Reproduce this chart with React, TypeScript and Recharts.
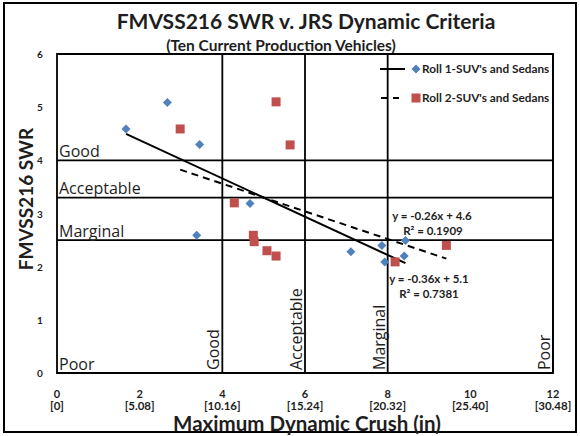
import React from "react";
import { ReferenceArea, ReferenceLine, Scatter, ScatterChart, XAxis, YAxis } from "recharts";

// Roll 1 and Roll 2 measurements (crush in, SWR)
const roll1Crush = [1.67, 2.67, 3.45, 4.67, 3.38, 7.11, 7.86, 8.43, 7.93, 8.4];
const roll1Swr = [4.59, 5.09, 4.3, 3.19, 2.59, 2.28, 2.4, 2.49, 2.09, 2.2];
const roll2Crush = [2.98, 5.3, 5.64, 4.29, 4.75, 4.77, 5.08, 5.3, 9.42, 8.18];
const roll2Swr = [4.59, 5.1, 4.29, 3.2, 2.59, 2.47, 2.3, 2.2, 2.4, 2.09];

const seriesNames = ["Roll 1-SUV's and Sedans", "Roll 2-SUV's and Sedans"];
const trendSlopes = [-0.36, -0.26];
const trendIntercepts = [5.1, 4.6];
const trendEquations = ["y = -0.36x + 5.1", "y = -0.26x + 4.6"];
const trendR2 = ["R² = 0.7381", "R² = 0.1909"];

const xTicks = [0, 2, 4, 6, 8, 10, 12];
const xTicksMm = ["0", "5.08", "10.16", "15.24", "20.32", "25.40", "30.48"];
const yTicks = [0, 1, 2, 3, 4, 5, 6];

const swrLevels = [4, 3.3, 2.5, 0];
const swrNames = ["Good", "Acceptable", "Marginal", "Poor"];
const crushLevels = [4, 6, 8, 12];
const crushNames = ["Good", "Acceptable", "Marginal", "Poor"];

const BLUE = "#4F81BD";
const RED = "#C0504D";
const INK = "#1e1e1e";
const FONT = 'Lato, "Open Sans", sans-serif';
const LABEL_FONT = '"Open Sans", sans-serif';

const toPoints = (xs: number[], ys: number[]) => xs.map((x, i) => ({ x, y: ys[i] }));

const trendPoints = (xs: number[], i: number) =>
  [Math.min(...xs), Math.max(...xs)].map((x) => ({ x, y: trendIntercepts[i] + trendSlopes[i] * x }));

const Diamond = (props: any) => {
  const { cx, cy } = props;
  const r = 4.5;
  return <polygon points={`${cx},${cy - r} ${cx + r},${cy} ${cx},${cy + r} ${cx - r},${cy}`} fill={BLUE} />;
};

const Square = (props: any) => {
  const { cx, cy } = props;
  return <rect x={cx - 4.5} y={cy - 4.5} width={9} height={9} fill={RED} />;
};

const NoDot = () => <g />;

function XTick(props: any) {
  const { x, y, payload } = props;
  const i = xTicks.indexOf(payload.value);
  const common = { x, textAnchor: "middle" as const, fontWeight: 700, fill: INK, fontFamily: FONT };
  return (
    <g>
      <text {...common} fontSize={11} y={y + 25}>{payload.value}</text>
      <text {...common} fontSize={11.5} y={y + 37}>[{xTicksMm[i]}]</text>
    </g>
  );
}

function YTick(props: any) {
  const { x, y, payload } = props;
  return (
    <text x={x - 17} y={y + 4} textAnchor="middle" fontSize={10} fontWeight={700} fill={INK} fontFamily={FONT}>
      {payload.value}
    </text>
  );
}

const hLabel = (name: string) => (props: any) => {
  const { viewBox } = props;
  return (
    <text x={viewBox.x + 2} y={viewBox.y - 3.5} fontSize={16} fill={INK} fontFamily={LABEL_FONT}>
      {name}
    </text>
  );
};

const vLabel = (name: string) => (props: any) => {
  const { viewBox } = props;
  const x = viewBox.x - 3;
  const y = viewBox.y + viewBox.height - 3;
  return (
    <text transform={`translate(${x},${y}) rotate(-90)`} fontSize={16} fill={INK} fontFamily={LABEL_FONT}>
      {name}
    </text>
  );
};

export default function App() {
  return (
    <div style={{ position: "absolute", left: 0, top: 0, width: 580, height: 436, background: "#fff" }}>
      <ScatterChart width={580} height={436} margin={{ top: 54, right: 27, bottom: 23, left: 0 }}>
        <XAxis
          type="number"
          dataKey="x"
          domain={[0, 12]}
          ticks={xTicks}
          tick={<XTick />}
          tickSize={0}
          tickMargin={0}
          axisLine={false}
          height={40}
        />
        <YAxis
          type="number"
          dataKey="y"
          domain={[0, 6]}
          ticks={yTicks}
          tick={<YTick />}
          tickSize={0}
          tickMargin={0}
          axisLine={false}
          width={57}
        />
        <ReferenceArea x1={0} x2={12} y1={0} y2={6} fill="none" stroke="#000" strokeWidth={1.8} />
        {swrLevels.map((v, i) => (
          <ReferenceLine key={"h" + i} y={v} stroke="#000" strokeWidth={1.8} label={hLabel(swrNames[i])} />
        ))}
        {crushLevels.map((v, i) => (
          <ReferenceLine key={"v" + i} x={v} stroke="#000" strokeWidth={1.8} label={vLabel(crushNames[i])} />
        ))}
        <Scatter
          name={seriesNames[0] + " trend"}
          data={trendPoints(roll1Crush, 0)}
          line={{ stroke: "#000", strokeWidth: 2 }}
          shape={NoDot}
          isAnimationActive={false}
        />
        <Scatter
          name={seriesNames[1] + " trend"}
          data={trendPoints(roll2Crush, 1)}
          line={{ stroke: "#000", strokeWidth: 2, strokeDasharray: "7 5" }}
          shape={NoDot}
          isAnimationActive={false}
        />
        <Scatter name={seriesNames[0]} data={toPoints(roll1Crush, roll1Swr)} shape={Diamond} isAnimationActive={false} />
        <Scatter name={seriesNames[1]} data={toPoints(roll2Crush, roll2Swr)} shape={Square} isAnimationActive={false} />
      </ScatterChart>

      <svg
        width={580}
        height={436}
        style={{ position: "absolute", left: 0, top: 0, pointerEvents: "none" }}
        fontFamily={FONT}
        fill={INK}
      >
        <rect x={4} y={3} width={572} height={429} fill="none" stroke="#000" strokeWidth={2} />
        <text x={306} y={29} textAnchor="middle" fontSize={21} fontWeight={700}>
          FMVSS216 SWR v. JRS Dynamic Criteria
        </text>
        <text x={281} y={51} textAnchor="middle" fontSize={15.5} fontWeight={700}>
          (Ten Current Production Vehicles)
        </text>
        <text x={307} y={431} textAnchor="middle" fontSize={20.5} fontWeight={700}>
          Maximum Dynamic Crush (in)
        </text>
        <text transform="translate(33,199) rotate(-90)" textAnchor="middle" fontSize={19} fontWeight={700}>
          FMVSS216 SWR
        </text>

        {/* legend */}
        <line x1={380} x2={405} y1={69} y2={69} stroke="#000" strokeWidth={2} />
        <polygon points="416,64.5 420.5,69 416,73.5 411.5,69" fill={BLUE} />
        <text x={422} y={73} fontSize={11.8} fontWeight={700}>{seriesNames[0]}</text>
        <line x1={381} x2={405} y1={98} y2={98} stroke="#000" strokeWidth={2} strokeDasharray="6 6" />
        <rect x={411.5} y={93.5} width={9} height={9} fill={RED} />
        <text x={422} y={102} fontSize={11.8} fontWeight={700}>{seriesNames[1]}</text>

        {/* trendline equations */}
        <text x={432} y={220} textAnchor="middle" fontSize={11.5} fontWeight={700}>{trendEquations[1]}</text>
        <text x={433} y={235} textAnchor="middle" fontSize={11.5} fontWeight={700}>{trendR2[1]}</text>
        <text x={429} y={283} textAnchor="middle" fontSize={11.5} fontWeight={700}>{trendEquations[0]}</text>
        <text x={429} y={298} textAnchor="middle" fontSize={11.5} fontWeight={700}>{trendR2[0]}</text>
      </svg>
    </div>
  );
}
